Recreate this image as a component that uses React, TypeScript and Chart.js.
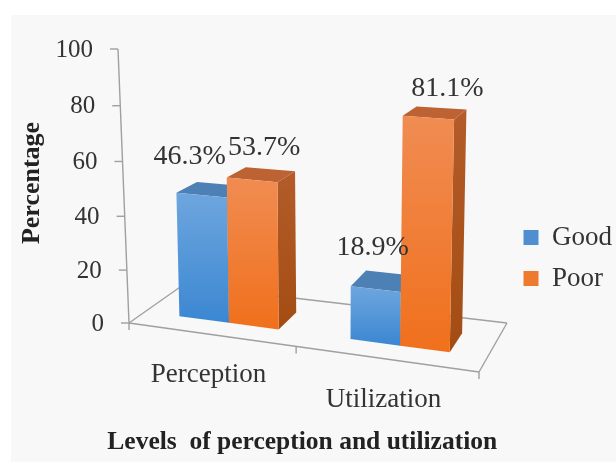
import React, { useEffect, useRef } from "react";
import { Chart, registerables } from "chart.js";

Chart.register(...registerables);

const categories = ["Perception", "Utilization"];
const seriesNames = ["Good", "Poor"];
const goodValues = [46.3, 18.9];
const poorValues = [53.7, 81.1];
const yTickStep = 20;
const yMax = 100;
const xTitle = "Levels  of perception and utilization";
const yTitle = "Percentage";

const FONT = '"Liberation Serif", "Times New Roman", serif';
const INK = "#333333";
const AXIS = "#a0a0a0";

// floor corners of the 3D box, in canvas pixels
const F00 = [129, 323];
const F10 = [479, 372];
const F01 = [183, 285];
const F11 = [507, 323];
const D0 = 0.3;
const D1 = 0.7;
const BAR_SHIFT = -0.005;

const floor = (u: number, d: number) => [0, 1].map(
  (k) =>
    (1 - u) * (1 - d) * F00[k] + u * (1 - d) * F10[k] + (1 - u) * d * F01[k] + u * d * F11[k]
);
const project = (u: number, v: number, d: number) => {
  const [bx, by] = floor(u, d);
  const h = (264 + 26 * u) * (1 - 0.1 * (d - D0));
  return [bx + v * (-8 + 15 * u), by - v * h];
};
const axisPoint = (v: number) => [129 - 11 * v, 323 - 274 * v + 12 * v * (1 - v)];

const poly = (ctx: CanvasRenderingContext2D, pts: number[][], fill: string | CanvasGradient) => {
  ctx.beginPath();
  pts.forEach((p, i) => (i ? ctx.lineTo(p[0], p[1]) : ctx.moveTo(p[0], p[1])));
  ctx.closePath();
  ctx.fillStyle = fill;
  ctx.fill();
};

const faceColors = [
  { front: ["#6ea6de", "#3b87d2"], top: "#4d80b4", side: ["#4d80b4", "#3b6fa5"] },
  { front: ["#f08c52", "#f0701c"], top: "#bd6232", side: ["#b45c2a", "#a34c12"] },
];
const labelOffsets = [
  [[-12, -39], [-3, -41]],
  [[12, -32], [19, -29]],
];

const box3d = {
  id: "box3d",
  beforeDatasetDraw: () => false,
  beforeDatasetsDraw(chart: any) {
    const ctx: CanvasRenderingContext2D = chart.ctx;
    ctx.save();
    ctx.strokeStyle = AXIS;
    ctx.lineWidth = 1.4;
    const line = (a: number[], b: number[]) => {
      ctx.beginPath();
      ctx.moveTo(a[0], a[1]);
      ctx.lineTo(b[0], b[1]);
      ctx.stroke();
    };
    line(F00, F10);
    line(F00, F01);
    line(F01, F11);
    line(F11, F10);
    const y = chart.scales.y;
    const ca = chart.chartArea;
    line(axisPoint(0), axisPoint(1));
    ctx.fillStyle = INK;
    ctx.font = `25px ${FONT}`;
    ctx.textAlign = "right";
    ctx.textBaseline = "middle";
    y.ticks.forEach((t: any) => {
      const v = (ca.bottom - y.getPixelForValue(t.value)) / ca.height;
      const p = axisPoint(v);
      line([p[0] - 8, p[1]], p);
      ctx.fillText(String(t.value), p[0] - 25, p[1] + 1);
    });
    const n = categories.length;
    for (let i = 0; i <= n; i++) {
      const t = i / n;
      const p = floor(t - 0.09 * t * (1 - t), 0);
      line(p, [p[0], p[1] + 7]);
    }
    const x = chart.scales.x;
    ctx.font = `27px ${FONT}`;
    ctx.textAlign = "center";
    categories.forEach((_, i) => {
      const u = (x.getPixelForValue(i) - ca.left) / ca.width;
      const p = floor(u, 0);
      ctx.fillText(x.getLabelForValue(i), p[0] - 8, p[1] + 40);
    });
    ctx.restore();
  },
  afterDatasetsDraw(chart: any) {
    const ctx: CanvasRenderingContext2D = chart.ctx;
    const ca = chart.chartArea;
    ctx.save();
    const labels: { text: string; x: number; y: number }[] = [];
    categories.forEach((_, i) => {
      chart.data.datasets.forEach((ds: any, s: number) => {
        const el = chart.getDatasetMeta(s).data[i];
        const u0 = (el.x - el.width / 2 - ca.left) / ca.width + BAR_SHIFT;
        const u1 = (el.x + el.width / 2 - ca.left) / ca.width + BAR_SHIFT;
        const v = (el.base - el.y) / ca.height;
        const c = faceColors[s];
        const tl = project(u0, v, D0);
        const tr = project(u1, v, D0);
        const bl = project(u0, 0, D0);
        const br = project(u1, 0, D0);
        const tr2 = project(u1, v, D1);
        const tl2 = project(u0, v, D1);
        const br2 = project(u1, 0, D1);
        const sg = ctx.createLinearGradient(0, tr2[1], 0, br[1]);
        sg.addColorStop(0, c.side[0]);
        sg.addColorStop(1, c.side[1]);
        poly(ctx, [br, tr, tr2, br2], sg);
        poly(ctx, [tl, tr, tr2, tl2], c.top);
        const fg = ctx.createLinearGradient(0, tl[1], 0, br[1]);
        fg.addColorStop(0, c.front[0]);
        fg.addColorStop(1, c.front[1]);
        poly(ctx, [tl, tr, br, bl], fg);
        const o = labelOffsets[s][i];
        labels.push({
          text: `${ds.data[i].toFixed(1)}%`,
          x: (tl[0] + tr[0]) / 2 + o[0],
          y: (tl[1] + tr[1]) / 2 + o[1],
        });
      });
    });
    ctx.fillStyle = INK;
    ctx.font = `28px ${FONT}`;
    ctx.textAlign = "center";
    ctx.textBaseline = "middle";
    labels.forEach((l) => ctx.fillText(l.text, l.x, l.y));
    ctx.restore();
  },
};

export default function App() {
  const ref = useRef<HTMLCanvasElement>(null);
  useEffect(() => {
    const chart = new Chart(ref.current as HTMLCanvasElement, {
      type: "bar",
      data: {
        labels: categories,
        datasets: [
          { label: seriesNames[0], data: goodValues, backgroundColor: "#4f8fd0", borderWidth: 0 },
          { label: seriesNames[1], data: poorValues, backgroundColor: "#ee7a2f", borderWidth: 0 },
        ],
      },
      options: {
        responsive: false,
        animation: false,
        layout: { padding: { top: 54, left: 17, right: -6, bottom: 0 } },
        datasets: { bar: { categoryPercentage: 0.58, barPercentage: 1 } },
        plugins: {
          tooltip: { enabled: false },
          legend: {
            position: "right",
            labels: {
              color: INK,
              font: { family: FONT, size: 27 },
              boxWidth: 15,
              boxHeight: 15,
              padding: 14,
            },
          },
        },
        scales: {
          x: {
            grid: { display: false },
            border: { display: false },
            ticks: { display: false },
            afterFit: (s: any) => {
              s.height = 150;
            },
            title: {
              display: true,
              text: xTitle,
              color: "#222",
              font: { family: FONT, size: 25.5, weight: "bold" },
              padding: { top: 0, bottom: 4 },
            },
          },
          y: {
            min: 0,
            max: yMax,
            grid: { display: false },
            border: { display: false },
            ticks: { display: false, stepSize: yTickStep },
            afterFit: (s: any) => {
              s.width = 78;
            },
            title: {
              display: true,
              text: yTitle,
              color: "#222",
              font: { family: FONT, size: 26, weight: "bold" },
              padding: { top: 0, bottom: 0 },
            },
          },
        },
      },
      plugins: [box3d],
    } as any);
    return () => chart.destroy();
  }, []);
  return (
    <div style={{ position: "fixed", left: 0, top: 0, width: 616, height: 462, background: "#ffffff" }}>
      <div style={{ position: "absolute", left: 11, top: 15, right: 0, bottom: 0, background: "#f8f8f8" }} />
      <canvas
        ref={ref}
        width={616}
        height={462}
        style={{ display: "block", position: "relative", filter: "blur(0.7px)" }}
      />
    </div>
  );
}
